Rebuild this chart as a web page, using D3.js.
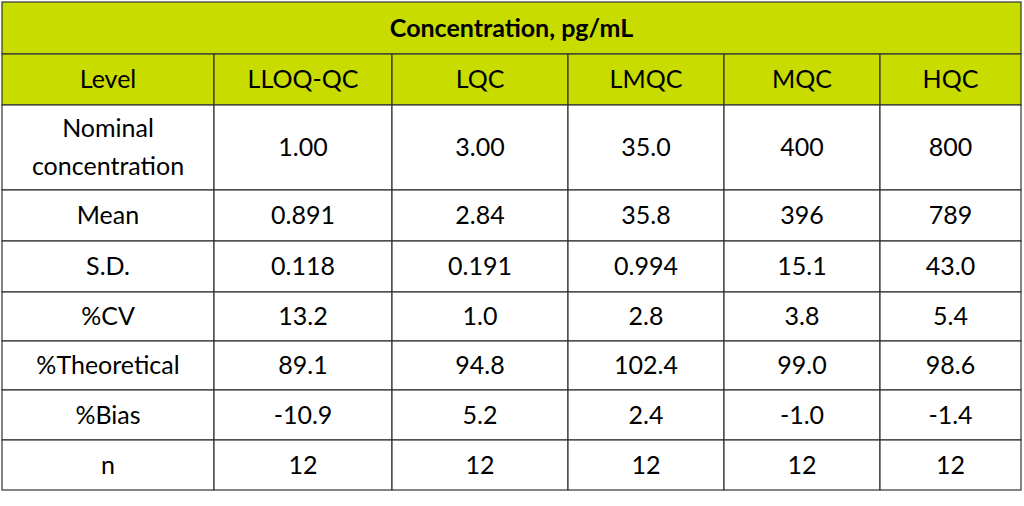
<!DOCTYPE html>
<html><head><meta charset="utf-8">
<script src="https://cdn.jsdelivr.net/npm/d3@7"></script>
<style>body{margin:0;background:#fff}svg{display:block}</style>
</head><body>
<svg id="t" width="1024" height="506"></svg>
<script>
const title = "Concentration, pg/mL";
const levels = ["Level", "LLOQ-QC", "LQC", "LMQC", "MQC", "HQC"];
const rowLabels = ["Nominal\nconcentration", "Mean", "S.D.", "%CV", "%Theoretical", "%Bias", "n"];
const nominal = ["1.00", "3.00", "35.0", "400", "800"];
const mean = ["0.891", "2.84", "35.8", "396", "789"];
const sd = ["0.118", "0.191", "0.994", "15.1", "43.0"];
const cv = ["13.2", "1.0", "2.8", "3.8", "5.4"];
const theo = ["89.1", "94.8", "102.4", "99.0", "98.6"];
const bias = ["-10.9", "5.2", "2.4", "-1.0", "-1.4"];
const nVals = ["12", "12", "12", "12", "12"];
const body = [nominal, mean, sd, cv, theo, bias, nVals];

const colEdges = [2, 214, 392, 568, 724, 880, 1021];
const rowEdges = [2, 54, 105, 190, 241, 292, 341, 390, 440, 490];
const green = "#c8dc00", font = "Lato, 'Open Sans', sans-serif";
const svg = d3.select("#t");

function cell(x0, x1, y0, y1, text, fill, bold) {
  svg.append("rect").attr("x", x0).attr("y", y0).attr("width", x1 - x0).attr("height", y1 - y0)
    .attr("fill", fill).attr("stroke", "#333").attr("stroke-width", 1.2);
  const lines = text.split("\n");
  const t = svg.append("text").attr("text-anchor", "middle").attr("font-family", font)
    .attr("font-size", 25).attr("font-weight", bold ? "bold" : "normal").attr("fill", "#000");
  const cy = (y0 + y1) / 2, lh = 38;
  lines.forEach((l, i) => t.append("tspan").attr("x", (x0 + x1) / 2)
    .attr("y", cy + (i - (lines.length - 1) / 2) * lh).attr("dy", "0.35em").text(l));
}

cell(colEdges[0], colEdges[6], rowEdges[0], rowEdges[1], title, green, true);
levels.forEach((l, j) => cell(colEdges[j], colEdges[j + 1], rowEdges[1], rowEdges[2], l, green, false));
rowLabels.forEach((r, i) => {
  cell(colEdges[0], colEdges[1], rowEdges[i + 2], rowEdges[i + 3], r, "#fff", false);
  body[i].forEach((v, j) => cell(colEdges[j + 1], colEdges[j + 2], rowEdges[i + 2], rowEdges[i + 3], v, "#fff", false));
});
</script>
</body></html>
